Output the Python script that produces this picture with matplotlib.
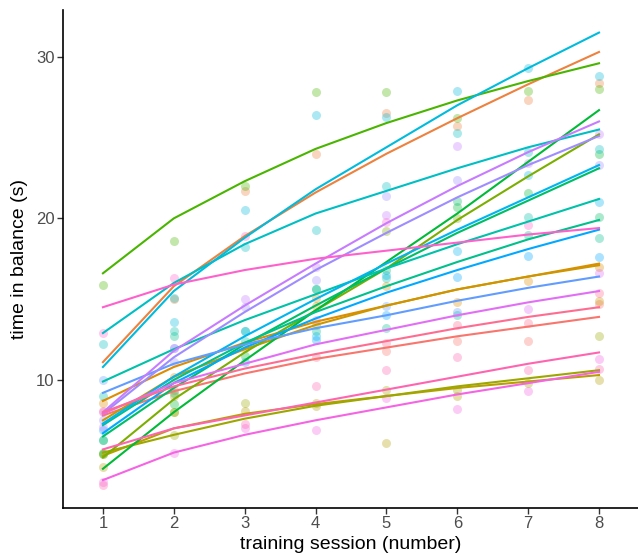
import numpy as np
import matplotlib
matplotlib.use("Agg")
import matplotlib.pyplot as plt

plt.rcParams["font.family"] = ["Liberation Sans", "DejaVu Sans"]

nan = np.nan
sessions = [1, 2, 3, 4, 5, 6, 7, 8]

# one row per subject (ordered as the colour palette), model values per session
fitted = [
    [7.8, 9.3, 10.4, 11.3, 12.0, 12.7, 13.3, 13.9],
    [11.1, 15.8, 18.9, 21.6, 24.0, 26.2, 28.3, 30.3],
    [8.7, 10.8, 12.3, 13.6, 14.6, 15.6, 16.4, 17.2],
    [7.5, 10.2, 11.9, 13.4, 14.6, 15.6, 16.4, 17.1],
    [5.3, 7.0, 7.9, 8.5, 9.0, 9.5, 9.9, 10.3],
    [5.5, 6.6, 7.6, 8.4, 9.0, 9.6, 10.1, 10.6],
    [5.2, 8.8, 11.7, 14.3, 16.9, 19.9, 22.6, 25.2],
    [16.6, 20.0, 22.3, 24.3, 25.9, 27.3, 28.5, 29.6],
    [4.5, 8.0, 11.2, 14.3, 17.3, 20.3, 23.5, 26.7],
    [6.5, 9.5, 12.2, 14.6, 16.9, 19.1, 21.1, 23.1],
    [7.2, 10.0, 12.3, 14.2, 15.8, 17.3, 18.7, 19.9],
    [9.9, 11.9, 13.7, 15.3, 16.9, 18.4, 19.8, 21.2],
    [12.9, 16.0, 18.4, 20.3, 21.7, 23.1, 24.4, 25.5],
    [10.8, 15.5, 18.8, 21.8, 24.4, 27.0, 29.3, 31.5],
    [7.3, 10.2, 12.7, 15.0, 17.2, 19.3, 21.3, 23.3],
    [6.7, 9.8, 12.0, 13.8, 15.4, 16.8, 18.1, 19.3],
    [9.2, 11.0, 12.2, 13.2, 14.0, 14.9, 15.7, 16.4],
    [7.9, 11.4, 14.2, 16.8, 19.1, 21.3, 23.3, 25.1],
    [8.0, 11.8, 14.6, 17.2, 19.7, 22.0, 24.1, 26.0],
    [7.9, 9.8, 11.0, 12.2, 13.1, 14.0, 14.8, 15.5],
    [3.8, 5.5, 6.6, 7.5, 8.3, 9.1, 9.8, 10.5],
    [14.5, 15.9, 16.8, 17.5, 18.0, 18.5, 19.0, 19.4],
    [5.7, 7.0, 7.8, 8.6, 9.4, 10.2, 11.0, 11.7],
    [8.0, 9.6, 10.7, 11.6, 12.4, 13.2, 13.9, 14.5],
]

# measured times (nan = no measurement)
observed = [
    [nan, 9.4, nan, nan, 11.8, 12.4, 12.4, 14.7],
    [nan, 15.0, 21.7, 24.0, 26.5, 25.7, 27.3, 28.4],
    [8.6, 10.2, 12.0, 15.1, 15.8, 14.8, 16.1, 17.0],
    [nan, 9.0, nan, 14.6, nan, nan, nan, 14.9],
    [4.6, 8.0, 8.1, 8.4, 6.1, 9.0, nan, 10.0],
    [5.4, 6.6, 8.6, 8.6, 9.4, 9.4, 9.8, 12.7],
    [5.4, 8.0, nan, 13.4, 19.2, 20.0, nan, nan],
    [15.9, 18.6, 22.0, 27.8, 27.8, 26.2, 27.9, 28.0],
    [5.5, 8.5, 11.5, nan, nan, 20.7, 21.6, 24.0],
    [6.3, 9.2, nan, 15.6, 16.8, 21.1, nan, 20.1],
    [6.3, 12.7, 13.0, 13.0, 13.2, 14.0, 19.0, 18.8],
    [9.0, 13.0, 12.4, 15.6, 16.3, nan, 20.1, nan],
    [12.2, 15.1, 18.2, 19.3, 22.0, 25.3, 24.1, 24.3],
    [nan, 13.6, 20.5, 26.4, 26.3, 27.9, 29.3, 28.8],
    [nan, nan, 13.0, 12.7, 16.5, 18.0, 22.7, 21.0],
    [6.9, nan, 11.1, 12.5, 14.0, 16.4, 17.7, 17.6],
    [10.0, 12.0, nan, nan, 14.6, 14.2, nan, nan],
    [7.5, 11.1, 14.5, 16.2, 21.4, 22.4, nan, 23.3],
    [7.1, 12.0, 15.0, 17.0, 20.2, 24.5, 23.4, 25.2],
    [8.0, nan, nan, 13.7, nan, nan, 14.4, 16.6],
    [3.7, 5.5, 7.0, 6.9, 8.9, 8.2, 9.3, 11.3],
    [12.9, 16.3, 18.9, nan, 19.8, nan, 19.6, nan],
    [3.5, nan, 7.3, 9.6, 10.6, 11.4, 10.6, 10.7],
    [8.1, nan, nan, 11.4, 12.3, 13.4, 13.5, 15.4],
]


def hcl_to_hex(h, c=100, l=65):
    # polar CIELUV -> sRGB (same idea as ggplot's default hue palette)
    xn, yn, zn = 95.047, 100.0, 108.883
    un = 4 * xn / (xn + 15 * yn + 3 * zn)
    vn = 9 * yn / (xn + 15 * yn + 3 * zn)
    u = c * np.cos(np.radians(h))
    v = c * np.sin(np.radians(h))
    y = yn * ((l + 16) / 116) ** 3
    up = u / (13 * l) + un
    vp = v / (13 * l) + vn
    x = y * 9 * up / (4 * vp)
    z = y * (12 - 3 * up - 20 * vp) / (4 * vp)
    xyz = np.array([x, y, z]) / 100
    m = np.array([[3.2406, -1.5372, -0.4986],
                  [-0.9689, 1.8758, 0.0415],
                  [0.0557, -0.2040, 1.0570]])
    rgb = m @ xyz
    rgb = np.where(rgb <= 0.0031308, 12.92 * rgb, 1.055 * np.clip(rgb, 0, None) ** (1 / 2.4) - 0.055)
    rgb = np.clip(rgb, 0, 1)
    return "#%02x%02x%02x" % tuple(int(round(k * 255)) for k in rgb)


n = len(fitted)
colors = [hcl_to_hex(15 + 345 * i / (n - 1)) for i in range(n)]

fig = plt.figure(figsize=(6.38, 5.54), dpi=100)
ax = fig.add_axes([0.0987, 0.083, 0.9013, 0.899])

for obs, col in zip(observed, colors):
    ax.scatter(sessions, obs, s=42, color=col, alpha=0.33, linewidths=0, zorder=2)

for fit, col in zip(fitted, colors):
    ax.plot(sessions, fit, color=col, lw=1.5, zorder=3)

ax.set_xlim(0.436, 8.55)
ax.set_ylim(2.07, 32.9)
ax.set_xticks(sessions)
ax.set_yticks([10, 20, 30])

for side in ["top", "right"]:
    ax.spines[side].set_visible(False)
for side in ["left", "bottom"]:
    ax.spines[side].set_linewidth(1.2)
    ax.spines[side].set_color("black")

ax.tick_params(axis="both", length=4, width=1.0, color="#333333",
               labelsize=12, labelcolor="#4d4d4d", pad=2)

ax.set_xlabel("training session (number)", fontsize=14, labelpad=3)
ax.set_ylabel("time in balance (s)", fontsize=14, labelpad=6)

fig.savefig("out.png", dpi=100)
